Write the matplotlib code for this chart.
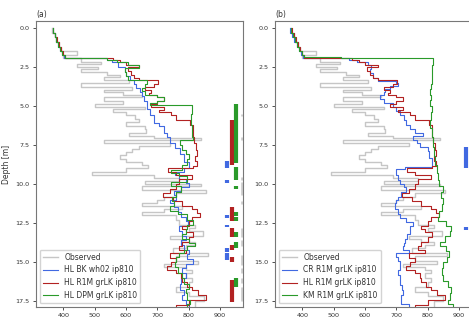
import numpy as np
import matplotlib
matplotlib.use("Agg")
import matplotlib.pyplot as plt

# ---------------- data ----------------
bottom_depth = 17.9

obs_top = [0.0, 0.3, 0.6, 0.9, 1.2, 1.45, 1.75, 1.95, 2.15, 2.3, 2.5, 2.65, 2.85, 3.0, 3.15, 3.35,
           3.55, 3.75, 3.95, 4.1, 4.3, 4.45, 4.65, 4.85, 5.05, 5.2, 5.4, 5.6, 5.8, 6.05, 6.3, 6.5,
           6.7, 6.9, 7.05, 7.15, 7.35, 7.55, 7.75, 7.95, 8.15, 8.4, 8.6, 8.8, 9.0, 9.2, 9.4, 9.6,
           9.8, 10.0, 10.15, 10.4, 10.6, 10.8, 11.0, 11.2, 11.4, 11.6, 11.8, 12.0, 12.3, 12.6, 12.8,
           13.0, 13.3, 13.5, 13.7, 13.9, 14.1, 14.4, 14.6, 14.9, 15.1, 15.3, 15.5, 15.7, 16.0, 16.3,
           16.6, 16.9, 17.2, 17.5]
obs_val = [365, 372, 378, 385, 392, 445, 400, 455, 520, 445, 510, 455, 540, 580, 530, 610,
           455, 620, 530, 590, 650, 530, 590, 500, 660, 560, 600, 630, 640, 600, 660, 665,
           610, 690, 840, 530, 740, 640, 620, 600, 580, 600, 650, 670, 600, 490, 690, 770,
           660, 840, 650, 855, 760, 720, 700, 650, 780, 720, 650, 760, 770, 820, 800,
           845, 740, 780, 820, 790, 750, 860, 760, 830, 720, 790, 810, 790, 810, 800,
           760, 800, 850, 820]

# panel (a) HL BK wh02 ip810
bk_top = [0.0, 0.3, 0.6, 0.9, 1.2, 1.5, 1.7, 1.95, 2.05, 2.2, 2.5, 2.8, 3.1, 3.35, 3.6, 3.87,
          4.1, 4.35, 4.7, 5.2, 5.6, 6.1, 6.3, 6.7, 7.0, 7.4, 7.7, 8.1, 8.6, 8.95, 9.2, 9.4,
          9.7, 9.95, 10.2, 10.45, 10.7, 11.0, 11.2, 11.5, 11.8, 12.1, 12.4, 12.7, 13.0, 13.3,
          13.6, 13.9, 14.2, 14.5, 14.8, 15.1, 15.4, 15.7, 16.0, 16.4, 16.8, 17.1, 17.4, 17.7]
bk_val = [366, 372, 378, 384, 390, 396, 402, 540, 555, 575, 597, 600, 612, 624, 632, 645,
          650, 656, 666, 675, 688, 705, 720, 730, 741, 755, 773, 785, 800, 785, 755, 770,
          790, 800, 775, 752, 760, 740, 752, 765, 775, 790, 797, 770, 778, 790,
          775, 785, 800, 795, 812, 790, 778, 790, 775, 772, 785, 780, 792, 800]

# HL R1M grLK ip810 (both panels)
r1m_top = [0.0, 0.3, 0.6, 0.9, 1.2, 1.5, 1.75, 1.95, 2.05, 2.2, 2.35, 2.5, 2.75, 3.0, 3.2, 3.35,
           3.6, 3.8, 4.0, 4.15, 4.3, 4.45, 4.65, 4.9, 5.05, 5.25, 5.4, 5.6, 5.9, 6.2, 6.6, 7.0,
           7.4, 7.8, 8.2, 8.5, 8.85, 9.0, 9.2, 9.45, 9.7, 10.0, 10.3, 10.6, 10.85, 11.1, 11.4,
           11.6, 11.85, 12.1, 12.4, 12.7, 12.9, 13.1, 13.4, 13.7, 14.0, 14.2, 14.45, 14.75, 15.0,
           15.25, 15.5, 15.7, 16.0, 16.3, 16.6, 16.8, 17.1, 17.45, 17.75]
r1m_val = [366, 373, 380, 386, 392, 398, 404, 560, 580, 600, 640, 605, 615, 625, 640, 703,
           690, 660, 680, 672, 700, 720, 700, 680, 720, 705, 745, 760, 805, 812, 815, 818,
           822, 826, 820, 826, 815, 735, 760, 810, 770, 760, 740, 718, 750, 780, 810,
           826, 836, 810, 800, 780, 790, 815, 800, 780, 770, 790, 740, 760, 745,
           730, 760, 775, 780, 795, 810, 830, 855, 800, 760]

# panel (a) HL DPM grLK ip810
dpm_top = [0.0, 0.3, 0.6, 0.9, 1.2, 1.5, 1.75, 1.9, 2.05, 2.2, 2.35, 2.55, 2.8, 3.05, 3.3, 3.6,
           3.85, 4.05, 4.3, 4.45, 4.65, 4.8, 4.94, 5.5, 6.2, 7.0, 7.2, 7.5, 7.8, 8.1, 8.4, 8.8,
           9.1, 9.3, 9.5, 9.85, 10.15, 10.5, 10.8, 11.1, 11.4, 11.7, 11.9, 12.3, 12.6, 12.9,
           13.2, 13.5, 13.8, 14.0, 14.2, 14.45, 14.7, 15.0, 15.3, 15.7, 16.0, 16.4, 16.7, 17.0,
           17.4, 17.7]
dpm_val = [366, 372, 378, 384, 390, 397, 404, 540, 570, 605, 640, 597, 600, 605, 666, 660,
           650, 660, 700, 720, 700, 678, 810, 808, 810, 812, 772, 780, 790, 800, 795, 780,
           745, 770, 795, 742, 775, 760, 748, 752, 740, 765, 795, 815, 795, 790,
           780, 800, 820, 795, 785, 770, 760, 755, 765, 778, 785, 800, 790, 795,
           805, 795]

# panel (b) CR R1M grLK ip810
cr_top = [0.0, 0.3, 0.6, 0.9, 1.2, 1.5, 1.75, 1.95, 2.05, 2.2, 2.4, 2.6, 2.9, 3.2, 3.4, 3.55,
          3.7, 3.9, 4.1, 4.3, 4.55, 4.8, 5.05, 5.3, 5.6, 5.9, 6.2, 6.5, 6.75, 6.95, 7.2, 7.4,
          7.6, 7.9, 8.3, 8.6, 8.9, 9.05, 9.4, 9.75, 10.0, 10.2, 10.5, 10.8, 11.0, 11.2, 11.6,
          11.9, 12.2, 12.45, 12.7, 12.9, 13.2, 13.5, 13.8, 14.0, 14.2, 14.45, 14.7, 14.9, 15.2,
          15.5, 15.8, 16.2, 16.5, 16.8, 17.1, 17.4, 17.7]
cr_val = [362, 368, 375, 382, 389, 396, 403, 550, 575, 610, 620, 615, 625, 640, 700, 706,
          680, 665, 660, 648, 660, 690, 700, 711, 725, 732, 743, 760, 785, 753, 765, 774,
          800, 805, 812, 815, 727, 700, 705, 712, 725, 732, 715, 705, 700, 695, 705,
          712, 730, 753, 745, 742, 735, 728, 725, 722, 740, 700, 705, 710, 712,
          705, 710, 712, 718, 722, 715, 716, 740]

# panel (b) KM R1M grLK ip810
km_top = [0.0, 0.3, 0.6, 0.9, 1.2, 1.5, 1.7, 1.84, 1.94, 2.4, 3.0, 3.6, 3.9, 4.3, 4.6, 5.0,
          5.4, 5.9, 6.4, 7.0, 7.6, 8.2, 8.8, 9.3, 9.75, 10.1, 10.5, 10.9, 11.3, 11.7, 12.1,
          12.4, 12.7, 13.0, 13.3, 13.7, 14.0, 14.3, 14.7, 15.0, 15.4, 15.8, 16.2, 16.6, 17.0,
          17.4, 17.7]
km_val = [364, 370, 377, 384, 391, 398, 406, 522, 816, 814, 812, 810, 806, 810, 808, 812,
          810, 806, 812, 816, 820, 824, 830, 833, 835, 848, 843, 848, 845, 837, 832,
          858, 875, 870, 855, 840, 858, 869, 860, 850, 845, 850, 865, 874, 870,
          865, 880]

# indicator segments (depth start, depth end)
ind_a_blue = [(8.5, 9.0), (9.75, 9.95), (12.0, 12.2), (12.6, 12.75), (14.1, 14.35), (14.45, 14.85)]
ind_a_red = [(5.9, 8.8), (11.5, 12.4), (12.8, 13.4), (13.9, 14.25), (14.7, 15.0), (16.15, 17.55)]
ind_a_green = [(4.87, 8.65), (8.9, 9.75), (10.1, 10.3), (11.8, 12.05), (12.1, 12.35),
               (13.1, 13.4), (13.7, 14.1), (16.0, 16.6)]
ind_a_grey = [(5.5, 5.65), (7.0, 7.15), (9.55, 9.75), (9.9, 10.7), (11.1, 11.25), (12.8, 13.4),
              (13.6, 14.0), (14.55, 15.2), (15.35, 15.7), (16.0, 16.35), (16.6, 17.5)]
ind_b_blue = [(7.6, 9.0), (12.75, 12.95)]
ind_b_red = [(4.0, 7.2), (9.3, 11.5), (11.7, 16.0), (16.4, 17.6)]

ind_x = {"blue": 921, "red": 937, "green": 952, "grey": 970}

labels_a = ["Observed", "HL BK wh02 ip810", "HL R1M grLK ip810", "HL DPM grLK ip810"]
labels_b = ["Observed", "CR R1M grLK ip810", "HL R1M grLK ip810", "KM R1M grLK ip810"]
xticks = [400, 500, 600, 700, 800, 900]
yticks = [0.0, 2.5, 5.0, 7.5, 10.0, 12.5, 15.0, 17.5]

# ---------------- style ----------------
C_OBS = "#c6c6c6"
C_BLUE = "#4169e1"
C_RED = "#b22222"
C_GREEN = "#2a9a2a"
TXT = "#333333"

fig = plt.figure(figsize=(4.69, 3.22), dpi=100)
W, H = 469, 322
ax1 = fig.add_axes([36 / W, 15 / H, 207 / W, 286 / H])
ax2 = fig.add_axes([275 / W, 15 / H, 207 / W, 286 / H])


def profile(ax, tops, vals, **kw):
    y = np.append(np.asarray(tops, float), bottom_depth)
    x = np.append(np.asarray(vals, float), vals[-1])
    return ax.plot(x, y, drawstyle="steps-pre", **kw)[0]


def indicators(ax, segs, x, color, lw=3.0):
    s = np.array(segs, float)
    ax.vlines([x] * len(s), s[:, 0], s[:, 1], colors=color, lw=lw, capstyle="butt")


def style(ax, title):
    ax.set_xlim(313, 973)
    ax.set_ylim(17.88, -0.45)
    ax.set_xticks(xticks)
    ax.set_yticks(yticks)
    ax.set_yticklabels([f"{v:.1f}" for v in yticks])
    ax.tick_params(labelsize=4.6, colors=TXT, length=2.5, width=0.6, pad=2)
    for sp in ax.spines.values():
        sp.set_color("#777777")
        sp.set_linewidth(0.8)
    ax.set_title(title, loc="left", fontsize=5.5, color=TXT, pad=3)


# panel a
lo = profile(ax1, obs_top, obs_val, color=C_OBS, lw=1.0)
l1 = profile(ax1, bk_top, bk_val, color=C_BLUE, lw=0.8)
l2 = profile(ax1, r1m_top, r1m_val, color=C_RED, lw=0.8)
l3 = profile(ax1, dpm_top, dpm_val, color=C_GREEN, lw=0.8)
indicators(ax1, ind_a_blue, ind_x["blue"], C_BLUE)
indicators(ax1, ind_a_red, ind_x["red"], C_RED)
indicators(ax1, ind_a_green, ind_x["green"], C_GREEN)
indicators(ax1, ind_a_grey, ind_x["grey"], "#cfcfcf", lw=2.0)
style(ax1, "(a)")
ax1.set_ylabel("Depth [m]", fontsize=5.5, color=TXT, labelpad=3)
ax1.legend([lo, l1, l2, l3], labels_a, loc="lower left", fontsize=5.5, frameon=True,
           fancybox=True, edgecolor="#cccccc", framealpha=0.85, borderaxespad=0.5,
           labelcolor=TXT)

# panel b
lo = profile(ax2, obs_top, obs_val, color=C_OBS, lw=1.0)
l1 = profile(ax2, cr_top, cr_val, color=C_BLUE, lw=0.8)
l2 = profile(ax2, r1m_top, r1m_val, color=C_RED, lw=0.8)
l3 = profile(ax2, km_top, km_val, color=C_GREEN, lw=0.8)
indicators(ax2, ind_b_blue, ind_x["blue"], C_BLUE)
indicators(ax2, ind_b_red, ind_x["red"], C_RED)
style(ax2, "(b)")
ax2.legend([lo, l1, l2, l3], labels_b, loc="lower left", fontsize=5.5, frameon=True,
           fancybox=True, edgecolor="#cccccc", framealpha=0.85, borderaxespad=0.5,
           labelcolor=TXT)

fig.savefig("out.png", dpi=100)
